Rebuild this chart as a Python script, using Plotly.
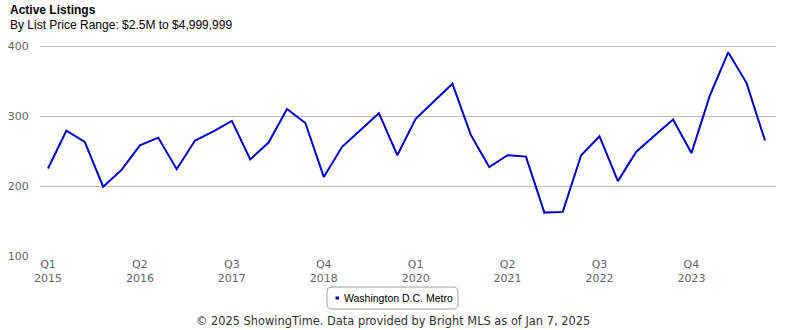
import plotly.graph_objects as go

quarters = [f"{y} Q{q}" for y in range(2015, 2025) for q in range(1, 5)]
listings = [225, 279, 263, 199, 223, 258, 269, 224, 265, 278,
            293, 238, 262, 310, 290, 213, 256, 280, 304, 244,
            296, 321, 346, 273, 227, 244, 242, 162, 163, 244,
            271, 207, 249, 272, 295, 247, 329, 391, 347, 265]
tick_vals = ["2015 Q1", "2016 Q2", "2017 Q3", "2018 Q4", "2020 Q1", "2021 Q2", "2022 Q3", "2023 Q4"]
tick_text = ["Q1<br>2015", "Q2<br>2016", "Q3<br>2017", "Q4<br>2018", "Q1<br>2020", "Q2<br>2021", "Q3<br>2022", "Q4<br>2023"]
series_name = "Washington D.C. Metro"
line_color = "#0000c8"

W, H = 785, 330
L, R, T, B = 40, 9, 40, 74
pw, ph = W - L - R, H - T - B

def px(x):
    return (x - L) / pw

def py(y):
    return (H - B - y) / ph

fig = go.Figure()
fig.add_trace(go.Scatter(x=quarters, y=listings, mode="lines", name=series_name,
                         line=dict(color=line_color, width=2), showlegend=False))
fig.add_trace(go.Scatter(x=[None], y=[None], mode="markers", name=series_name,
                         marker=dict(symbol="square", size=4, color="rgba(0,0,0,0)")))

tick_font = dict(family="DejaVu Sans", size=11, color="#666666")
fig.update_xaxes(type="category", range=[-0.435, 39.6], tickmode="array",
                 tickvals=tick_vals, ticktext=tick_text, showgrid=False,
                 zeroline=False, showline=False, ticks="", tickfont=tick_font)
fig.update_yaxes(range=[100, 400 + 6 * 300 / 210], tickvals=[100, 200, 300, 400], showgrid=True,
                 gridcolor="#c0c0c0", gridwidth=1, zeroline=False, showline=False,
                 ticks="outside", ticklen=8, tickcolor="rgba(0,0,0,0)",
                 tickfont=tick_font)

# rounded legend frame
x0, x1, y0, y1, r = px(327), px(458), py(287), py(309), 5
rx, ry = r / pw, r / ph
path = (f"M {x0+rx},{y0} L {x1-rx},{y0} Q {x1},{y0} {x1},{y0-ry} "
        f"L {x1},{y1+ry} Q {x1},{y1} {x1-rx},{y1} L {x0+rx},{y1} "
        f"Q {x0},{y1} {x0},{y1+ry} L {x0},{y0-ry} Q {x0},{y0} {x0+rx},{y0} Z")
fig.add_shape(type="path", path=path, xref="paper", yref="paper",
              line=dict(color="#a0a0a0", width=1), fillcolor="rgba(0,0,0,0)")
# legend key
fig.add_shape(type="rect", xref="paper", yref="paper",
              x0=px(335.5), x1=px(339), y0=py(296.5), y1=py(299.5),
              line=dict(width=0), fillcolor=line_color)

fig.update_layout(
    width=W, height=H,
    margin=dict(l=L, r=R, t=T, b=B),
    plot_bgcolor="white", paper_bgcolor="white",
    showlegend=True,
    legend=dict(orientation="h", x=px(304), xanchor="left", y=py(298), yanchor="middle",
                font=dict(family="Liberation Sans", size=10.5, color="#000000"),
                bgcolor="rgba(0,0,0,0)", borderwidth=0, itemwidth=30),
    annotations=[
        dict(text="<b>Active Listings</b>", x=px(8), y=py(10), xref="paper", yref="paper",
             xanchor="left", yanchor="middle", showarrow=False,
             font=dict(family="Liberation Sans", size=12, color="#000000")),
        dict(text="By List Price Range: $2.5M to $4,999,999", x=px(8), y=py(25),
             xref="paper", yref="paper", xanchor="left", yanchor="middle", showarrow=False,
             font=dict(family="Liberation Sans", size=12, color="#000000")),
        dict(text="© 2025 ShowingTime. Data provided by Bright MLS as of Jan 7, 2025",
             x=px(393), y=py(321), xref="paper", yref="paper", xanchor="center",
             yanchor="middle", showarrow=False,
             font=dict(family="DejaVu Sans", size=11.4, color="#333333")),
    ],
)

fig.write_html("out.html")
